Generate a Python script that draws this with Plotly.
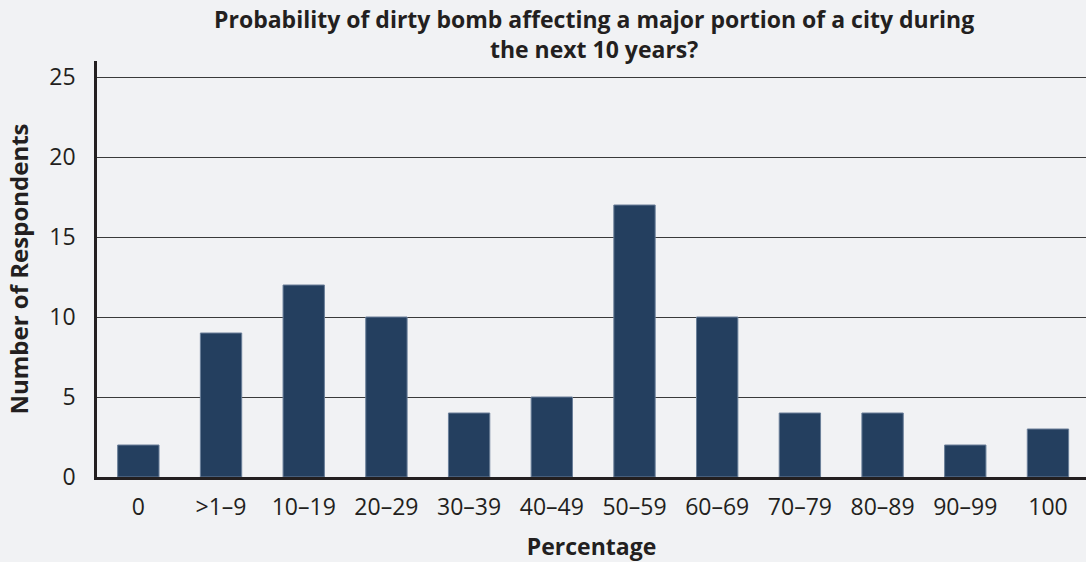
import plotly.graph_objects as go

categories = ["0", ">1–9", "10–19", "20–29", "30–39", "40–49", "50–59",
              "60–69", "70–79", "80–89", "90–99", "100"]
respondents = [2, 9, 12, 10, 4, 5, 17, 10, 4, 4, 2, 3]
title_lines = ["Probability of dirty bomb affecting a major portion of a city during",
               "the next 10 years?"]

FONT = "Open Sans"
TXT = "#231f20"
BG = "#f1f2f4"

fig = go.Figure(go.Bar(
    x=list(range(len(categories))),
    y=respondents,
    width=0.5,
    marker=dict(color="#243f5f", line=dict(color="#6a7f99", width=1)),
))

fig.update_layout(
    width=1086, height=562,
    paper_bgcolor=BG, plot_bgcolor=BG,
    margin=dict(l=97, r=0, t=61, b=85),
    showlegend=False,
    font=dict(family=FONT, color=TXT, size=23),
    bargap=0.5,
    annotations=[dict(
        text="<b>" + "<br>".join(title_lines) + "</b>",
        xref="paper", yref="paper", x=0.5025, y=1.064,
        xanchor="center", yanchor="middle", showarrow=False,
        font=dict(family=FONT, size=23, color=TXT),
    )],
)

fig.update_xaxes(
    tickmode="array",
    tickvals=list(range(len(categories))),
    ticktext=categories,
    range=[-0.5, 11.46],
    showgrid=False,
    showline=True, linecolor=TXT, linewidth=2.5,
    ticks="", ticklen=0, ticklabelstandoff=8,
    tickfont=dict(size=23, color=TXT),
    title=dict(text="<b>Percentage</b>", font=dict(size=23, color=TXT), standoff=21),
    zeroline=False,
)

fig.update_yaxes(
    range=[0, 26],
    tickvals=[0, 5, 10, 15, 20, 25],
    showgrid=True, gridcolor="#3a3a3a", gridwidth=1.3,
    showline=True, linecolor=TXT, linewidth=2.5,
    ticks="", ticklen=0, ticklabelstandoff=14,
    tickfont=dict(size=23, color=TXT),
    title=dict(text="<b>Number of Respondents</b>", font=dict(size=24, color=TXT), standoff=14),
    zeroline=False,
)

fig.write_html("out.html",
               config={"displayModeBar": False},
               post_script="document.body.style.margin='0';document.body.style.background='#f1f2f4';")
